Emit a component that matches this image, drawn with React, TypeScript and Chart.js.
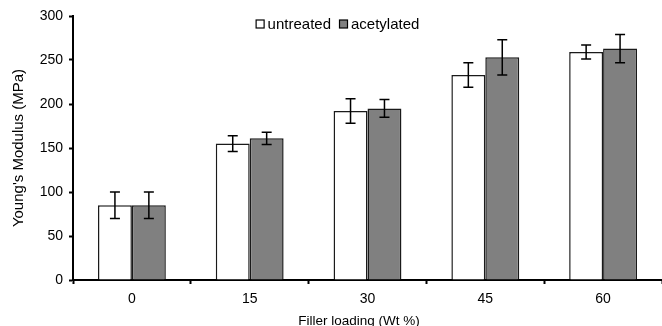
import React, { useEffect, useRef } from "react";
import { Chart, registerables } from "chart.js";

Chart.register(...registerables);

const categories = ["0", "15", "30", "45", "60"];
const untreated = [85, 155, 192, 233, 259];
const untreatedErr = [15, 9, 14, 14, 8];
const acetylated = [85, 161, 195, 253, 263];
const acetylatedErr = [15, 7, 10, 20, 16];
const errors = [untreatedErr, acetylatedErr];
const xTitle = "Filler loading (Wt %)";
const yTitle = "Young's Modulus (MPa)";

const FONT = "'Liberation Sans', Arial, sans-serif";

const errorBarPlugin = {
  id: "errorBars",
  afterDatasetsDraw(chart: any) {
    const ctx = chart.ctx;
    const yScale = chart.scales.y;
    ctx.save();
    ctx.strokeStyle = "#000";
    ctx.lineWidth = 1.5;
    chart.data.datasets.forEach((ds: any, di: number) => {
      const meta = chart.getDatasetMeta(di);
      meta.data.forEach((el: any, i: number) => {
        const v = ds.data[i];
        const e = errors[di][i];
        const x = el.x;
        const yt = yScale.getPixelForValue(v + e);
        const yb = yScale.getPixelForValue(v - e);
        ctx.beginPath();
        ctx.moveTo(x, yt);
        ctx.lineTo(x, yb);
        ctx.moveTo(x - 5, yt);
        ctx.lineTo(x + 5, yt);
        ctx.moveTo(x - 5, yb);
        ctx.lineTo(x + 5, yb);
        ctx.stroke();
      });
    });
    ctx.restore();
  },
};

const legendPlugin = {
  id: "customLegend",
  afterDraw(chart: any) {
    const ctx = chart.ctx;
    ctx.save();
    ctx.font = "15px " + FONT;
    ctx.textBaseline = "middle";
    const box = 9;
    const gapBoxText = 3;
    const gapItems = 8;
    const items = chart.data.datasets.map((ds: any) => ({
      label: ds.label,
      fill: ds.backgroundColor,
      w: ctx.measureText(ds.label).width,
    }));
    let total = 0;
    items.forEach((it: any, i: number) => {
      total += box + gapBoxText + it.w + (i < items.length - 1 ? gapItems : 0);
    });
    let x = 337.5 - total / 2;
    const cy = 24;
    items.forEach((it: any) => {
      ctx.fillStyle = it.fill;
      ctx.fillRect(x + 0.5, cy - box / 2 + 0.5, box - 1, box - 1);
      ctx.strokeStyle = "#000";
      ctx.lineWidth = 1.2;
      ctx.strokeRect(x + 0.5, cy - box / 2 + 0.5, box - 1, box - 1);
      x += box + gapBoxText;
      ctx.fillStyle = "#000";
      ctx.fillText(it.label, x, cy + 1);
      x += it.w + gapItems;
    });
    // x-axis title
    ctx.font = "13.5px " + FONT;
    ctx.textAlign = "center";
    ctx.textBaseline = "alphabetic";
    ctx.fillText(xTitle, 359, 324.5);
    ctx.restore();
  },
};

export default function App() {
  const ref = useRef<HTMLCanvasElement | null>(null);
  useEffect(() => {
    document.body.style.margin = "0";
    const chart = new Chart(ref.current as HTMLCanvasElement, {
      type: "bar",
      data: {
        labels: categories,
        datasets: [
          {
            label: "untreated",
            data: untreated,
            backgroundColor: "#ffffff",
            borderColor: "#1a1a1a",
            borderWidth: 1.5,
            categoryPercentage: 0.576,
            barPercentage: 1,
          },
          {
            label: "acetylated",
            data: acetylated,
            backgroundColor: "#808080",
            borderColor: "#1a1a1a",
            borderWidth: 1.5,
            categoryPercentage: 0.576,
            barPercentage: 1,
          },
        ],
      },
      options: {
        responsive: false,
        animation: false,
        layout: { padding: { top: 16, left: 0, right: 0, bottom: 0 } },
        plugins: {
          legend: { display: false },
          tooltip: { enabled: false },
        },
        scales: {
          x: {
            offset: true,
            grid: {
              display: true,
              offset: true,
              drawOnChartArea: false,
              tickLength: 4,
              tickColor: "#000",
              tickWidth: 2,
            },
            border: { display: true, color: "#000", width: 2 },
            ticks: { color: "#000", font: { family: FONT, size: 14 }, padding: 7 },
            title: { display: false, text: xTitle },
            afterFit: (s: any) => {
              s.height = 46;
            },
          },
          y: {
            min: 0,
            max: 300,
            ticks: {
              stepSize: 50,
              color: "#000",
              font: { family: FONT, size: 14 },
              padding: 6,
            },
            grid: {
              display: true,
              drawOnChartArea: false,
              tickLength: 4,
              tickColor: "#000",
              tickWidth: 2,
            },
            border: { display: true, color: "#000", width: 2 },
            title: {
              display: true,
              text: yTitle,
              color: "#000",
              font: { family: FONT, size: 15 },
              padding: { top: 10, bottom: 0 },
            },
            afterFit: (s: any) => {
              s.width = 73;
            },
          },
        },
      },
      plugins: [errorBarPlugin, legendPlugin],
    });
    return () => chart.destroy();
  }, []);
  return (
    <div style={{ width: 662, height: 326 }}>
      <canvas ref={ref} width={662} height={326} style={{ display: "block" }} />
    </div>
  );
}
